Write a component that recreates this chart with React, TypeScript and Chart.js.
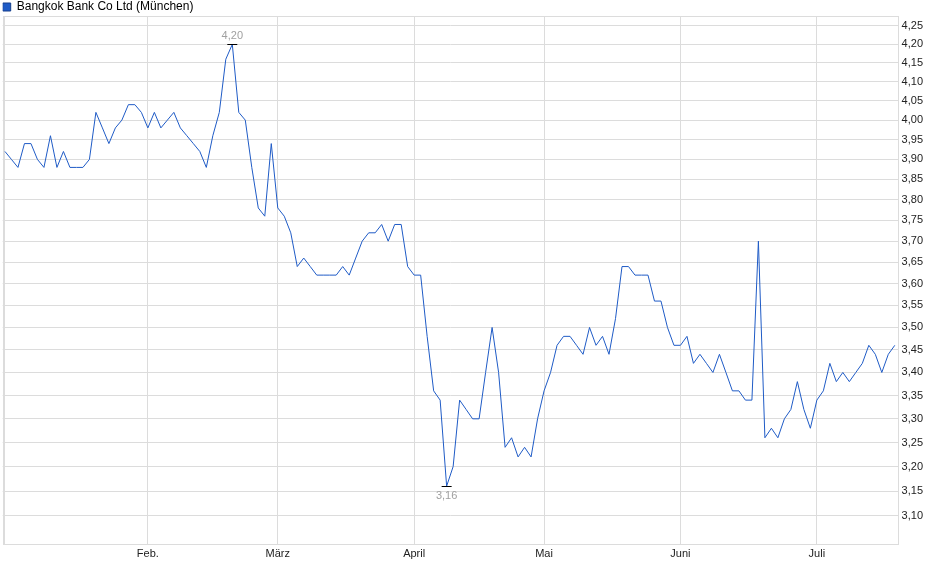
import React, { useEffect, useRef } from "react";
import { Chart, registerables } from "chart.js";

Chart.register(...registerables);

const seriesName = "Bangkok Bank Co Ltd (München)";

// daily closing prices (EUR), one per trading day
const prices: number[] = [
  3.92, 3.90, 3.88, 3.94, 3.94, 3.90, 3.88, 3.96, 3.88, 3.92,
  3.88, 3.88, 3.88, 3.90, 4.02, 3.98, 3.94, 3.98, 4.00, 4.04,
  4.04, 4.02, 3.98, 4.02, 3.98, 4.00, 4.02, 3.98, 3.96, 3.94,
  3.92, 3.88, 3.96, 4.02, 4.16, 4.20, 4.02, 4.00, 3.88, 3.78,
  3.76, 3.94, 3.78, 3.76, 3.72, 3.64, 3.66, 3.64, 3.62, 3.62,
  3.62, 3.62, 3.64, 3.62, 3.66, 3.70, 3.72, 3.72, 3.74, 3.70,
  3.74, 3.74, 3.64, 3.62, 3.62, 3.48, 3.36, 3.34, 3.16, 3.20,
  3.34, 3.32, 3.30, 3.30, 3.40, 3.50, 3.40, 3.24, 3.26, 3.22,
  3.24, 3.22, 3.30, 3.36, 3.40, 3.46, 3.48, 3.48, 3.46, 3.44,
  3.50, 3.46, 3.48, 3.44, 3.52, 3.64, 3.64, 3.62, 3.62, 3.62,
  3.56, 3.56, 3.50, 3.46, 3.46, 3.48, 3.42, 3.44, 3.42, 3.40,
  3.44, 3.40, 3.36, 3.36, 3.34, 3.34, 3.70, 3.26, 3.28, 3.26,
  3.30, 3.32, 3.38, 3.32, 3.28, 3.34, 3.36, 3.42, 3.38, 3.40,
  3.38, 3.40, 3.42, 3.46, 3.44, 3.40, 3.44, 3.46,
];

// index of first trading day of each month and its label
const monthIndex: number[] = [0, 22, 42, 63, 83, 104, 125];
const monthLabels: string[] = ["", "Feb.", "März", "April", "Mai", "Juni", "Juli"];

// y-axis tick values (logarithmic axis)
const yTicks: number[] = [
  3.10, 3.15, 3.20, 3.25, 3.30, 3.35, 3.40, 3.45, 3.50, 3.55, 3.60, 3.65,
  3.70, 3.75, 3.80, 3.85, 3.90, 3.95, 4.00, 4.05, 4.10, 4.15, 4.20, 4.25,
];

const LINE = "#1f5bc6";
const GRID = "#dcdcdc";
const FONT = "'Liberation Sans', Arial, sans-serif";

const fmt = (v: number) => v.toFixed(2).replace(".", ",");

const frameAndMarkers = {
  id: "frameAndMarkers",
  beforeDatasetsDraw(chart: any) {
    const { ctx, chartArea } = chart;
    ctx.save();
    ctx.strokeStyle = GRID;
    ctx.lineWidth = 1;
    ctx.strokeRect(
      Math.round(chartArea.left) + 0.5,
      Math.round(chartArea.top) + 0.5,
      Math.round(chartArea.right - chartArea.left),
      Math.round(chartArea.bottom - chartArea.top)
    );
    ctx.restore();
  },
  afterDatasetsDraw(chart: any) {
    const { ctx, scales } = chart;
    let maxI = 0;
    let minI = 0;
    prices.forEach((v, i) => {
      if (v > prices[maxI]) maxI = i;
      if (v < prices[minI]) minI = i;
    });
    ctx.save();
    ctx.font = `11px ${FONT}`;
    ctx.textAlign = "center";
    const draw = (i: number, above: boolean) => {
      const px = scales.x.getPixelForValue(i);
      const py = Math.round(scales.y.getPixelForValue(prices[i])) + 0.5;
      ctx.strokeStyle = "#000";
      ctx.lineWidth = 1;
      ctx.beginPath();
      ctx.moveTo(px - 5, py);
      ctx.lineTo(px + 5, py);
      ctx.stroke();
      ctx.fillStyle = "#a0a0a0";
      ctx.textBaseline = above ? "bottom" : "top";
      ctx.fillText(fmt(prices[i]), px, above ? py - 3 : py + 4);
    };
    draw(maxI, true);
    draw(minI, false);
    ctx.restore();
  },
};

export default function App() {
  const ref = useRef<HTMLCanvasElement | null>(null);

  useEffect(() => {
    if (!ref.current) return;
    const chart = new Chart(ref.current, {
      type: "line",
      data: {
        datasets: [
          {
            label: seriesName,
            data: prices.map((v, i) => ({ x: i, y: v })),
            borderColor: LINE,
            backgroundColor: LINE,
            borderWidth: 1,
            pointRadius: 0,
            tension: 0,
            fill: false,
          },
        ],
      },
      options: {
        animation: false,
        responsive: false,
        layout: { padding: { left: 2.7, right: 13, top: 1, bottom: 14 } },
        plugins: {
          tooltip: { enabled: false },
          legend: {
            display: true,
            position: "top",
            align: "start",
            maxHeight: 15,
            labels: {
              padding: 0,
              boxWidth: 8,
              boxHeight: 8,
              color: "#000",
              font: { family: FONT, size: 12 },
              generateLabels: () => [
                {
                  text: seriesName,
                  fillStyle: LINE,
                  strokeStyle: "#163f8c",
                  lineWidth: 1,
                  hidden: false,
                  datasetIndex: 0,
                },
              ],
            },
          },
        },
        scales: {
          x: {
            type: "linear",
            min: -0.35,
            max: 137.43,
            afterBuildTicks: (scale: any) => {
              scale.ticks = monthIndex.map((v) => ({ value: v }));
            },
            grid: { color: GRID, drawTicks: false },
            border: { display: false },
            ticks: {
              autoSkip: false,
              maxRotation: 0,
              padding: 4,
              color: "#222",
              font: { family: FONT, size: 11 },
              callback: (v: any) => {
                const k = monthIndex.indexOf(Number(v));
                return k >= 0 ? monthLabels[k] : "";
              },
            },
          },
          y: {
            type: "logarithmic",
            position: "right",
            min: 3.0448,
            max: 4.2774,
            afterBuildTicks: (scale: any) => {
              scale.ticks = yTicks.map((v) => ({ value: v }));
            },
            grid: { color: GRID, drawTicks: false },
            border: { display: false },
            ticks: {
              autoSkip: false,
              padding: 4,
              color: "#222",
              font: { family: FONT, size: 11 },
              callback: (v: any) => fmt(Number(v)),
            },
          },
        },
      },
      plugins: [frameAndMarkers],
    } as any);
    return () => chart.destroy();
  }, []);

  return (
    <div style={{ position: "absolute", left: 0, top: 0, width: 940, height: 579, background: "#fff" }}>
      <canvas ref={ref} width={940} height={579} style={{ width: 940, height: 579 }} />
    </div>
  );
}
